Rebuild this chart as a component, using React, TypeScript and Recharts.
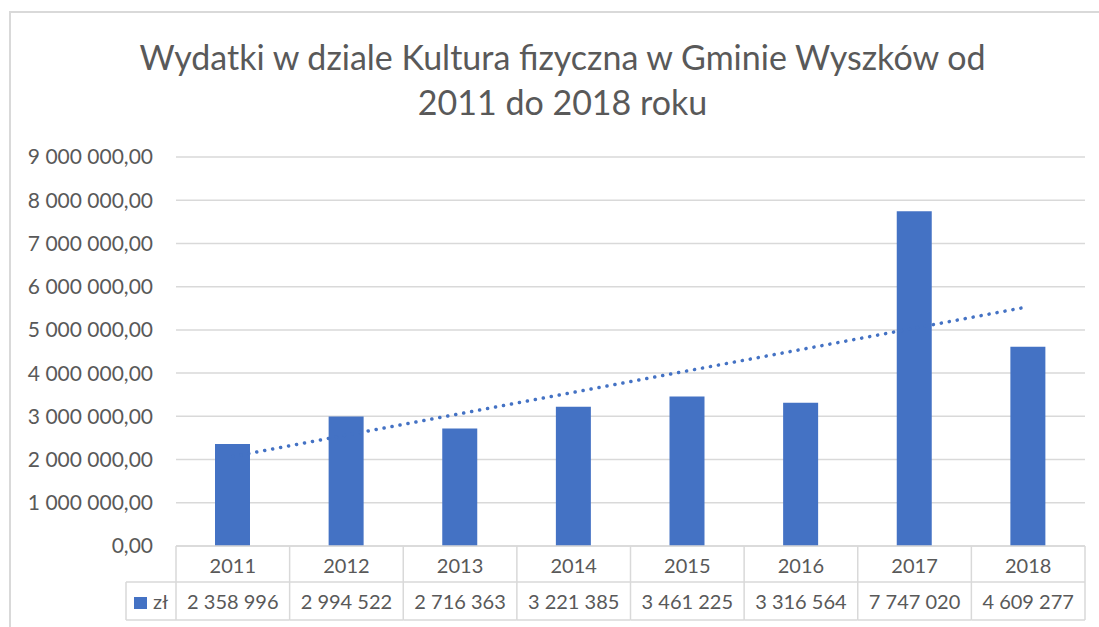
import { Bar, CartesianGrid, ComposedChart, Line, XAxis, YAxis } from 'recharts'

const years = ['2011', '2012', '2013', '2014', '2015', '2016', '2017', '2018']
const expenses = [2358996, 2994522, 2716363, 3221385, 3461225, 3316564, 7747020, 4609277]
// linear trendline at each year
const trend = [2070000, 2565000, 3060000, 3555000, 4050000, 4545000, 5040000, 5535000]
const yTicks = [0, 1000000, 2000000, 3000000, 4000000, 5000000, 6000000, 7000000, 8000000, 9000000]

const data = years.map((year, i) => ({ year, value: expenses[i], trend: trend[i] }))

const W = 1099
const H = 627
const MARGIN = { top: 157, right: 14, bottom: 7, left: 0 }
const Y_AXIS_W = 176
const X_AXIS_H = 74
const PLOT_BOTTOM = H - MARGIN.bottom - X_AXIS_H
const CELL_W = (W - MARGIN.right - Y_AXIS_W) / years.length

const BLUE = '#4472C4'
const TEXT = '#595959'
const LINE = '#d9d9d9'
const FONT = 'Lato, "Open Sans", sans-serif'

const group = (n: number) => String(n).replace(/\B(?=(\d{3})+(?!\d))/g, ' ')
const fmtAxis = (v: number) => `${group(v)},00`

function TableTick(props: any) {
  const { x, index, payload } = props
  const left = x - CELL_W / 2
  const right = x + CELL_W / 2
  const mid = PLOT_BOTTOM + 36
  const bot = PLOT_BOTTOM + 74
  const ln = { stroke: LINE, strokeWidth: 1.5 }
  return (
    <g>
      <line x1={left} y1={PLOT_BOTTOM} x2={left} y2={bot} {...ln} />
      {index === years.length - 1 && <line x1={right} y1={PLOT_BOTTOM} x2={right} y2={bot} {...ln} />}
      <line x1={left} y1={mid} x2={right} y2={mid} {...ln} />
      <line x1={left} y1={bot} x2={right} y2={bot} {...ln} />
      <text x={x} y={PLOT_BOTTOM + 19} textAnchor="middle" dominantBaseline="central" fill={TEXT} fontSize={20} fontFamily={FONT}>
        {payload.value}
      </text>
      <text x={x} y={mid + 19} textAnchor="middle" dominantBaseline="central" fill={TEXT} fontSize={20} fontFamily={FONT}>
        {group(expenses[index])}
      </text>
      {index === 0 && (
        <g>
          <line x1={left - 50} y1={mid} x2={left} y2={mid} {...ln} />
          <line x1={left - 50} y1={bot} x2={left} y2={bot} {...ln} />
          <line x1={left - 50} y1={mid} x2={left - 50} y2={bot} {...ln} />
          <rect x={left - 42} y={mid + 15} width={13} height={12} fill={BLUE} />
          <text x={left - 23} y={mid + 19} dominantBaseline="central" fill={TEXT} fontSize={20} fontFamily={FONT}>
            zł
          </text>
        </g>
      )}
    </g>
  )
}

export default function App() {
  return (
    <div style={{ position: 'absolute', left: 0, top: 0, width: W, height: H, background: '#fff', overflow: 'hidden' }}>
      <div
        style={{
          position: 'absolute',
          left: 9,
          top: 11,
          width: W,
          height: H,
          borderLeft: `2px solid ${LINE}`,
          borderTop: `2px solid ${LINE}`,
        }}
      />
      <div
        style={{
          position: 'absolute',
          left: 0,
          top: 34,
          width: 1125,
          textAlign: 'center',
          color: TEXT,
          fontFamily: FONT,
          fontSize: 34,
          lineHeight: '45px',
        }}
      >
        Wydatki w dziale Kultura fizyczna w Gminie Wyszków od
        <br />
        2011 do 2018 roku
      </div>
      <div style={{ position: 'absolute', left: 0, top: 0 }}>
        <ComposedChart width={W} height={H} data={data} margin={MARGIN}>
          <CartesianGrid vertical={false} stroke={LINE} strokeWidth={1.5} />
          <XAxis
            dataKey="year"
            height={X_AXIS_H}
            axisLine={{ stroke: LINE, strokeWidth: 1.5 }}
            tickLine={false}
            tick={<TableTick />}
            interval={0}
          />
          <YAxis
            width={Y_AXIS_W}
            domain={[0, 9000000]}
            ticks={yTicks}
            tickFormatter={fmtAxis}
            axisLine={false}
            tickLine={false}
            tickSize={0}
            tickMargin={23}
            tick={{ fill: TEXT, fontSize: 21, fontFamily: FONT }}
          />
          <Bar dataKey="value" fill={BLUE} barSize={35} isAnimationActive={false} />
          <Line
            dataKey="trend"
            type="linear"
            stroke={BLUE}
            strokeWidth={3.5}
            strokeDasharray="0.1 8"
            strokeLinecap="round"
            dot={false}
            activeDot={false}
            isAnimationActive={false}
          />
        </ComposedChart>
      </div>
    </div>
  )
}
